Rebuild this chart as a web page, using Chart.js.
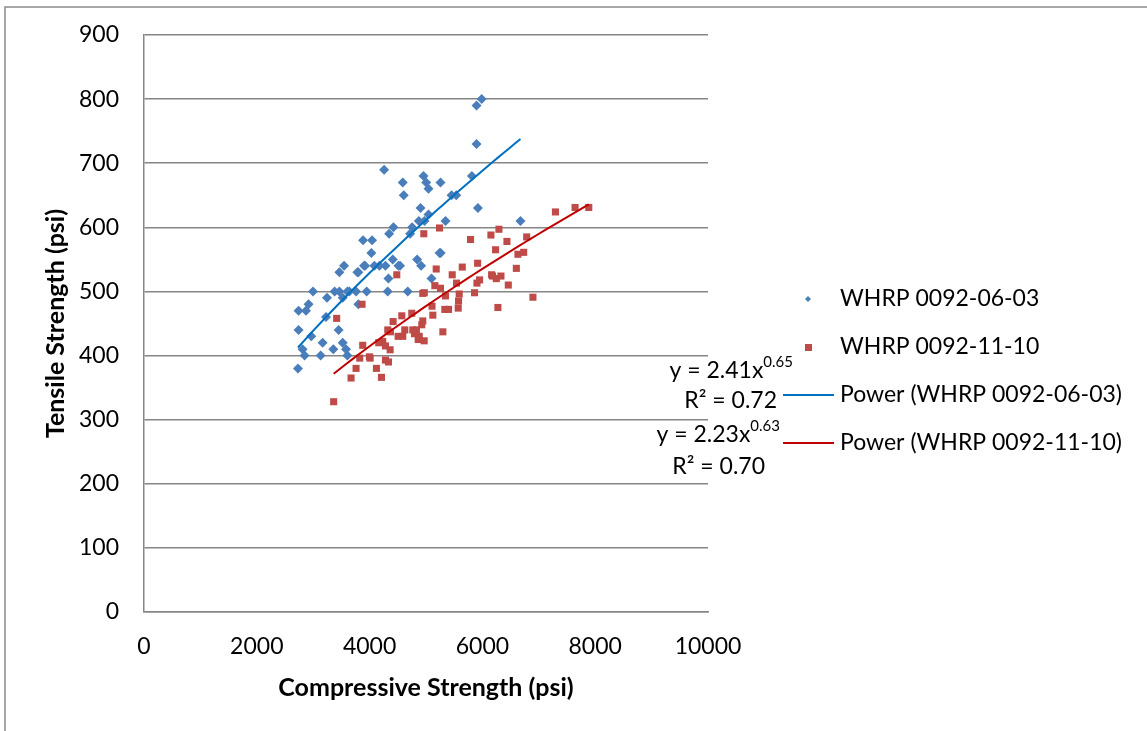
<!DOCTYPE html>
<html>
<head>
<meta charset="utf-8">
<script src="https://cdn.jsdelivr.net/npm/chart.js@4.4.0/dist/chart.umd.min.js"></script>
<style>
  body { margin: 0; background: #fff; }
  #wrap { width: 1147px; height: 731px; }
</style>
</head>
<body>
<div id="wrap"><canvas id="chart" width="1147" height="731"></canvas></div>
<script>
// series names
const seriesNames = ['WHRP 0092-06-03', 'WHRP 0092-11-10'];

// WHRP 0092-06-03 : [compressive, tensile] (psi)
const whrp0603 = [
  [4257, 690], [4588, 670], [4606, 650], [4956, 680], [5003, 670], [5044, 660], [5257, 670],
  [4902, 630], [5044, 620], [4873, 610], [4973, 610], [5346, 610], [4423, 600], [4346, 590],
  [4754, 600], [4719, 590], [5453, 650], [5536, 650], [5814, 680], [5921, 630], [3884, 580],
  [4044, 580], [4032, 560], [3902, 540], [3920, 540], [3783, 530], [3800, 530], [4085, 540],
  [4174, 540], [4281, 540], [4411, 550], [4511, 540], [4540, 540], [4843, 550], [4914, 540],
  [5240, 560], [5260, 560], [5098, 520], [4334, 520], [3547, 540], [3464, 530], [2996, 500],
  [3380, 500], [3464, 500], [3606, 500], [3641, 500], [3760, 500], [3948, 500], [4321, 500],
  [4676, 500], [3245, 490], [3523, 490], [3801, 480], [2918, 480], [2872, 470], [2741, 470],
  [2741, 440], [3451, 440], [3227, 460], [2966, 430], [3167, 420], [3523, 420], [2812, 410],
  [2847, 400], [3132, 400], [3357, 410], [3582, 410], [3606, 400], [2730, 380], [5896, 790],
  [5987, 800], [5896, 730], [6675, 610]
];

// WHRP 0092-11-10 : [compressive, tensile] (psi)
const whrp1110 = [
  [3363, 328], [3416, 458], [3866, 480], [3671, 365], [3760, 380], [3825, 396], [3878, 416],
  [3996, 398], [4010, 396], [4121, 380], [4210, 366], [4162, 420], [4233, 422], [4281, 415],
  [4281, 393], [4334, 390], [4364, 409], [4322, 440], [4417, 453], [4370, 437], [4506, 430],
  [4588, 430], [4482, 526], [4571, 462], [4624, 440], [4748, 466], [4766, 440], [4796, 434],
  [4861, 425], [4968, 423], [4943, 454], [4925, 448], [5181, 535], [5157, 509], [5257, 505],
  [4943, 497], [4970, 498], [5107, 477], [5121, 463], [5299, 437], [5346, 493], [5334, 472],
  [5400, 472], [5465, 526], [5643, 538], [5541, 513], [5589, 496], [5577, 485], [5571, 474],
  [5861, 498], [5915, 544], [5903, 513], [5950, 518], [6163, 526], [6180, 524], [6275, 475],
  [7295, 624], [7643, 631], [7886, 631], [5790, 581], [6151, 588], [6293, 597], [6435, 578],
  [6785, 585], [6234, 565], [6630, 558], [6732, 561], [6602, 536], [6329, 524], [6247, 520],
  [6459, 510], [6896, 491], [4961, 590], [5240, 599], [4880, 430], [4830, 440]
];

// power trendlines y = a * x^b, as printed on the chart
const fit0603 = [2.41, 0.65];
const fit1110 = [2.23, 0.63];
const r2Labels = ['R² = 0.72', 'R² = 0.70'];

const xTicks = [0, 2000, 4000, 6000, 8000, 10000];
const yTicks = [0, 100, 200, 300, 400, 500, 600, 700, 800, 900];

const FONT = 'Lato, "Open Sans", sans-serif';

function toPoints(arr) {
  return arr.map(p => ({ x: p[0], y: p[1] }));
}

// sample the power curve between the smallest and largest x of the series
function powerCurve(arr, fit) {
  const xs = arr.map(p => p[0]);
  const lo = Math.min(...xs), hi = Math.max(...xs);
  const pts = [];
  for (let i = 0; i <= 40; i++) {
    const x = lo + (hi - lo) * i / 40;
    pts.push({ x: x, y: fit[0] * Math.pow(x, fit[1]) });
  }
  return pts;
}

// outer frame, legend and trendline equations
const extras = {
  id: 'extras',
  beforeDraw(chart) {
    const ctx = chart.ctx;
    ctx.save();
    ctx.fillStyle = '#fff';
    ctx.fillRect(0, 0, chart.width, chart.height);
    ctx.strokeStyle = '#8a8a8a';
    ctx.lineWidth = 1.5;
    ctx.strokeRect(5, 7, 1300, 900);
    ctx.restore();
  },
  afterDraw(chart) {
    const ctx = chart.ctx;
    ctx.save();
    ctx.font = '23px ' + FONT;
    ctx.fillStyle = '#000';
    ctx.textBaseline = 'middle';
    ctx.textAlign = 'left';
    const rows = [299, 347, 395, 443];
    const labels = [seriesNames[0], seriesNames[1], 'Power (' + seriesNames[0] + ')', 'Power (' + seriesNames[1] + ')'];
    labels.forEach((t, i) => ctx.fillText(t, 840, rows[i]));

    // markers
    ctx.fillStyle = '#4a7ebb';
    ctx.beginPath();
    ctx.moveTo(808, 296); ctx.lineTo(811, 299); ctx.lineTo(808, 302); ctx.lineTo(805, 299);
    ctx.closePath(); ctx.fill();
    ctx.fillStyle = '#be4b48';
    ctx.fillRect(805, 344, 7, 7);
    ctx.lineWidth = 2;
    ctx.strokeStyle = '#0070c0';
    ctx.beginPath(); ctx.moveTo(783, 395); ctx.lineTo(834, 395); ctx.stroke();
    ctx.strokeStyle = '#c00000';
    ctx.beginPath(); ctx.moveTo(783, 443); ctx.lineTo(834, 443); ctx.stroke();

    // equations
    function eq(fit, right, y) {
      const main = 'y = ' + fit[0].toFixed(2) + 'x';
      const sup = fit[1].toFixed(2);
      ctx.font = '15px ' + FONT;
      const ws = ctx.measureText(sup).width;
      ctx.textAlign = 'left';
      ctx.fillText(sup, right - ws, y - 9);
      ctx.font = '23px ' + FONT;
      ctx.textAlign = 'right';
      ctx.fillText(main, right - ws, y);
    }
    ctx.fillStyle = '#000';
    eq(fit0603, 793, 371);
    ctx.textAlign = 'right';
    ctx.font = '23px ' + FONT;
    ctx.fillText(r2Labels[0], 777, 401);
    eq(fit1110, 780, 435);
    ctx.textAlign = 'right';
    ctx.font = '23px ' + FONT;
    ctx.fillText(r2Labels[1], 765, 467);
    ctx.restore();
  }
};

const ctx = document.getElementById('chart').getContext('2d');
const chart = new Chart(ctx, {
  type: 'scatter',
  data: {
    datasets: [
      {
        label: seriesNames[0],
        data: toPoints(whrp0603),
        pointStyle: 'rectRot',
        pointRadius: 5,
        backgroundColor: '#4a7ebb',
        borderColor: '#4a7ebb',
        borderWidth: 0,
        order: 2
      },
      {
        label: seriesNames[1],
        data: toPoints(whrp1110),
        pointStyle: 'rect',
        pointRadius: 5,
        backgroundColor: '#be4b48',
        borderColor: '#be4b48',
        borderWidth: 0,
        order: 1
      },
      {
        label: 'Power (' + seriesNames[0] + ')',
        type: 'line',
        data: powerCurve(whrp0603, fit0603),
        borderColor: '#0070c0',
        borderWidth: 2,
        pointRadius: 0,
        fill: false,
        order: 0
      },
      {
        label: 'Power (' + seriesNames[1] + ')',
        type: 'line',
        data: powerCurve(whrp1110, fit1110),
        borderColor: '#c00000',
        borderWidth: 2,
        pointRadius: 0,
        fill: false,
        order: 0
      }
    ]
  },
  options: {
    responsive: false,
    animation: false,
    layout: { padding: { left: 0, top: 35, right: 439, bottom: 0 } },
    plugins: { legend: { display: false }, tooltip: { enabled: false } },
    scales: {
      x: {
        type: 'linear',
        min: xTicks[0],
        max: xTicks[xTicks.length - 1],
        afterBuildTicks: (s) => { s.ticks = xTicks.map(v => ({ value: v })); },
        afterFit: (s) => { s.height = 119; },
        grid: { display: false, drawTicks: false },
        border: { display: true, color: '#868686', width: 1.5 },
        ticks: { color: '#000', font: { family: FONT, size: 23 }, padding: 21, maxRotation: 0, callback: (v) => String(v) },
        title: {
          display: true,
          text: 'Compressive Strength (psi)',
          color: '#000',
          font: { family: FONT, size: 25, weight: 'bold' },
          padding: { top: 0, bottom: 28 }
        }
      },
      y: {
        type: 'linear',
        min: yTicks[0],
        max: yTicks[yTicks.length - 1],
        afterBuildTicks: (s) => { s.ticks = yTicks.map(v => ({ value: v })); },
        afterFit: (s) => { s.width = 144; s.paddingTop = 0; s.paddingBottom = 0; },
        grid: { color: '#868686', lineWidth: 1.5, drawTicks: false },
        border: { display: true, color: '#868686', width: 1.5 },
        ticks: { color: '#000', font: { family: FONT, size: 23 }, padding: 25, callback: (v) => String(v) },
        title: {
          display: true,
          text: 'Tensile Strength (psi)',
          color: '#000',
          font: { family: FONT, size: 25, weight: 'bold' },
          padding: { top: 41, bottom: 0 }
        }
      }
    }
  },
  plugins: [extras]
});
</script>
</body>
</html>
